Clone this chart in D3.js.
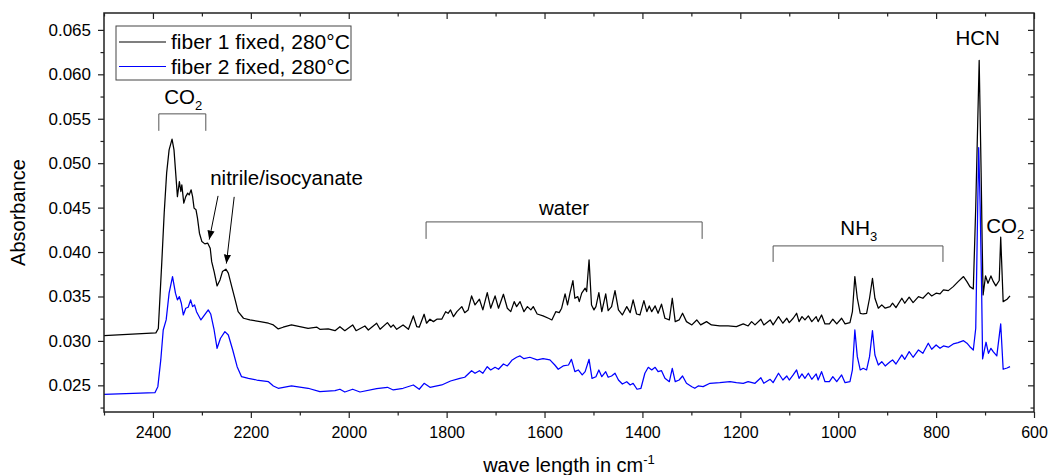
<!DOCTYPE html>
<html>
<head>
<meta charset="utf-8">
<script src="https://cdn.jsdelivr.net/npm/d3@7"></script>
<style>
  body { margin: 0; background: #fff; }
  text { font-family: Arial, "Liberation Sans", sans-serif; fill: #000; }
</style>
</head>
<body>
<div class="chart"></div>
<script>
// fiber 1 (black) - wavenumber in cm-1 and absorbance
const fiber1Wave = [
  2500, 2394, 2389, 2382, 2377, 2372, 2367, 2361, 2357, 2354,
  2350, 2346, 2343, 2341, 2337, 2333, 2329, 2326, 2322, 2319,
  2316, 2312, 2309, 2305, 2300, 2294, 2288, 2283, 2280, 2275,
  2269, 2263, 2258, 2251, 2246, 2239, 2232, 2226, 2215, 2202,
  2181, 2164, 2154, 2144, 2134, 2117, 2100, 2083, 2065, 2059,
  2042, 2028, 2018, 2008, 1992, 1985, 1967, 1960, 1943, 1936,
  1921, 1914, 1909, 1902, 1889, 1878, 1868, 1861, 1856, 1846,
  1841, 1834, 1827, 1820, 1810, 1802, 1797, 1792, 1786, 1779,
  1769, 1763, 1756, 1749, 1742, 1733, 1726, 1717, 1710, 1701,
  1694, 1684, 1676, 1669, 1662, 1657, 1650, 1642, 1635, 1628,
  1623, 1615, 1603, 1592, 1585, 1577, 1570, 1565, 1558, 1553,
  1548, 1542, 1538, 1532, 1529, 1524, 1517, 1514, 1509, 1504,
  1499, 1495, 1489, 1483, 1475, 1470, 1463, 1456, 1449, 1441,
  1432, 1425, 1419, 1412, 1405, 1397, 1391, 1386, 1381, 1374,
  1368, 1361, 1354, 1345, 1339, 1333, 1325, 1318, 1310, 1299,
  1289, 1281, 1269, 1259, 1242, 1225, 1208, 1194, 1184, 1177,
  1170, 1158, 1152, 1139, 1133, 1122, 1113, 1105, 1100, 1092,
  1085, 1080, 1074, 1068, 1061, 1054, 1045, 1041, 1034, 1027,
  1018, 1011, 1003, 993, 986, 976, 971, 966, 961, 955,
  949, 942, 936, 930, 925, 918, 911, 904, 894, 889,
  882, 870, 864, 855, 847, 836, 827, 816, 809, 800,
  792, 785, 775, 765, 755, 744, 737, 731, 724, 719,
  712, 708, 706, 704, 699, 694, 688, 683, 678, 671,
  668, 663, 655, 649
];
const fiber1Abs = [
  0.03059, 0.03090, 0.03140, 0.03878, 0.04441, 0.04891, 0.05150, 0.05271, 0.05150, 0.04925,
  0.04624, 0.04793, 0.04681, 0.04756, 0.04550, 0.04624, 0.04663, 0.04643, 0.04700, 0.04624,
  0.04494, 0.04475, 0.04381, 0.04212, 0.04118, 0.04092, 0.04100, 0.04043, 0.03892, 0.03780,
  0.03619, 0.03686, 0.03780, 0.03807, 0.03762, 0.03611, 0.03461, 0.03329, 0.03255, 0.03236,
  0.03217, 0.03199, 0.03180, 0.03135, 0.03154, 0.03180, 0.03160, 0.03142, 0.03154, 0.03131,
  0.03135, 0.03115, 0.03160, 0.03115, 0.03180, 0.03115, 0.03168, 0.03123, 0.03199, 0.03131,
  0.03206, 0.03154, 0.03180, 0.03131, 0.03180, 0.03131, 0.03281, 0.03160, 0.03154, 0.03300,
  0.03199, 0.03244, 0.03217, 0.03244, 0.03244, 0.03329, 0.03311, 0.03349, 0.03273, 0.03329,
  0.03386, 0.03318, 0.03349, 0.03506, 0.03405, 0.03469, 0.03349, 0.03543, 0.03368, 0.03506,
  0.03368, 0.03525, 0.03368, 0.03329, 0.03442, 0.03386, 0.03442, 0.03329, 0.03386, 0.03349,
  0.03386, 0.03303, 0.03281, 0.03255, 0.03236, 0.03329, 0.03318, 0.03368, 0.03529, 0.03405,
  0.03537, 0.03678, 0.03480, 0.03498, 0.03442, 0.03537, 0.03593, 0.03555, 0.03912, 0.03405,
  0.03349, 0.03386, 0.03543, 0.03329, 0.03529, 0.03341, 0.03386, 0.03566, 0.03349, 0.03292,
  0.03386, 0.03318, 0.03461, 0.03303, 0.03292, 0.03453, 0.03329, 0.03394, 0.03329, 0.03394,
  0.03311, 0.03413, 0.03255, 0.03236, 0.03480, 0.03217, 0.03236, 0.03311, 0.03217, 0.03180,
  0.03236, 0.03180, 0.03217, 0.03180, 0.03168, 0.03168, 0.03160, 0.03191, 0.03168, 0.03217,
  0.03180, 0.03244, 0.03180, 0.03236, 0.03180, 0.03273, 0.03199, 0.03255, 0.03206, 0.03255,
  0.03311, 0.03217, 0.03273, 0.03236, 0.03281, 0.03217, 0.03273, 0.03217, 0.03292, 0.03191,
  0.03191, 0.03244, 0.03191, 0.03255, 0.03191, 0.03206, 0.03329, 0.03724, 0.03480, 0.03311,
  0.03303, 0.03311, 0.03480, 0.03705, 0.03480, 0.03368, 0.03405, 0.03368, 0.03386, 0.03424,
  0.03374, 0.03480, 0.03424, 0.03492, 0.03431, 0.03498, 0.03480, 0.03543, 0.03506, 0.03537,
  0.03529, 0.03574, 0.03566, 0.03611, 0.03667, 0.03724, 0.03667, 0.03611, 0.03585, 0.04512,
  0.06156, 0.04891, 0.04137, 0.03517, 0.03731, 0.03649, 0.03731, 0.03667, 0.03619, 0.03680,
  0.04167, 0.03442, 0.03469, 0.03506
];

// fiber 2 (blue)
const fiber2Wave = [
  2500, 2396, 2390, 2384, 2379, 2373, 2367, 2360, 2354, 2350,
  2346, 2342, 2338, 2333, 2328, 2323, 2319, 2315, 2311, 2302,
  2296, 2287, 2282, 2275, 2269, 2262, 2253, 2246, 2237, 2228,
  2219, 2205, 2188, 2164, 2154, 2144, 2117, 2083, 2059, 2028,
  2018, 2008, 1992, 1977, 1943, 1921, 1909, 1889, 1868, 1856,
  1846, 1834, 1810, 1792, 1773, 1763, 1749, 1742, 1733, 1726,
  1717, 1710, 1701, 1694, 1684, 1676, 1666, 1657, 1650, 1642,
  1630, 1615, 1603, 1589, 1579, 1572, 1562, 1551, 1545, 1538,
  1531, 1523, 1517, 1509, 1503, 1495, 1489, 1483, 1475, 1470,
  1463, 1456, 1449, 1441, 1432, 1425, 1419, 1411, 1403, 1395,
  1388, 1381, 1374, 1368, 1361, 1354, 1345, 1339, 1333, 1325,
  1318, 1310, 1299, 1293, 1286, 1276, 1262, 1242, 1221, 1208,
  1194, 1184, 1170, 1158, 1152, 1139, 1133, 1122, 1113, 1105,
  1100, 1092, 1085, 1080, 1074, 1068, 1061, 1054, 1045, 1041,
  1034, 1027, 1018, 1011, 1003, 993, 986, 976, 971, 966,
  961, 955, 949, 942, 936, 930, 925, 918, 911, 904,
  894, 889, 882, 870, 864, 855, 847, 836, 827, 816,
  809, 800, 792, 785, 775, 765, 755, 744, 737, 731,
  724, 719, 715, 713, 710, 707, 705, 698, 693, 688,
  683, 676, 668, 663, 655, 649
];
const fiber2Abs = [
  0.02399, 0.02417, 0.02485, 0.02786, 0.03123, 0.03236, 0.03537, 0.03724, 0.03537, 0.03461,
  0.03498, 0.03424, 0.03292, 0.03368, 0.03379, 0.03461, 0.03386, 0.03405, 0.03329, 0.03236,
  0.03281, 0.03349, 0.03303, 0.03123, 0.02917, 0.03030, 0.03104, 0.03067, 0.02898, 0.02710,
  0.02597, 0.02579, 0.02560, 0.02541, 0.02493, 0.02467, 0.02493, 0.02467, 0.02429, 0.02440,
  0.02456, 0.02425, 0.02456, 0.02425, 0.02462, 0.02478, 0.02448, 0.02467, 0.02504, 0.02456,
  0.02523, 0.02478, 0.02504, 0.02549, 0.02579, 0.02591, 0.02665, 0.02636, 0.02665, 0.02636,
  0.02710, 0.02673, 0.02703, 0.02681, 0.02740, 0.02718, 0.02786, 0.02816, 0.02831, 0.02800,
  0.02816, 0.02786, 0.02800, 0.02786, 0.02729, 0.02681, 0.02718, 0.02729, 0.02793, 0.02654,
  0.02673, 0.02617, 0.02654, 0.02793, 0.02579, 0.02597, 0.02673, 0.02597, 0.02654, 0.02591,
  0.02605, 0.02636, 0.02560, 0.02515, 0.02541, 0.02504, 0.02523, 0.02456, 0.02467, 0.02636,
  0.02703, 0.02673, 0.02703, 0.02654, 0.02665, 0.02579, 0.02541, 0.02692, 0.02541, 0.02560,
  0.02605, 0.02523, 0.02485, 0.02467, 0.02493, 0.02485, 0.02523, 0.02530, 0.02541, 0.02530,
  0.02523, 0.02541, 0.02523, 0.02586, 0.02523, 0.02568, 0.02530, 0.02636, 0.02560, 0.02605,
  0.02560, 0.02617, 0.02673, 0.02579, 0.02628, 0.02579, 0.02636, 0.02568, 0.02628, 0.02560,
  0.02654, 0.02541, 0.02541, 0.02597, 0.02541, 0.02617, 0.02530, 0.02541, 0.02673, 0.03123,
  0.02823, 0.02673, 0.02692, 0.02673, 0.02823, 0.03115, 0.02842, 0.02729, 0.02766, 0.02718,
  0.02766, 0.02786, 0.02740, 0.02842, 0.02793, 0.02879, 0.02816, 0.02898, 0.02861, 0.02974,
  0.02906, 0.02954, 0.02917, 0.02943, 0.02929, 0.02966, 0.02980, 0.03003, 0.02974, 0.02935,
  0.02898, 0.03142, 0.04512, 0.05176, 0.04512, 0.03574, 0.02797, 0.02985, 0.02861, 0.02917,
  0.02876, 0.02831, 0.03191, 0.02681, 0.02695, 0.02710
];

const seriesNames = ["fiber 1 fixed, 280°C", "fiber 2 fixed, 280°C"];
const seriesColors = ["#000000", "#0000ff"];

const xTicks = [2400, 2200, 2000, 1800, 1600, 1400, 1200, 1000, 800, 600];
const xMinorTicks = [2500, 2300, 2100, 1900, 1700, 1500, 1300, 1100, 900, 700];
const yTicks = [0.025, 0.030, 0.035, 0.040, 0.045, 0.050, 0.055, 0.060, 0.065];
const yMinorTicks = [0.0225, 0.0275, 0.0325, 0.0375, 0.0425, 0.0475, 0.0525, 0.0575, 0.0625];

// band brackets: [from, to] in cm-1, top level and leg bottom in absorbance
const brackets = [
  { label: "CO", sub: "2", from: 2388, to: 2292, top: 0.05555, bottom: 0.05364, labelAt: 2338, labelY: 0.05668 },
  { label: "water", sub: "", from: 1842, to: 1278, top: 0.04339, bottom: 0.04148, labelAt: 1560, labelY: 0.04418 },
  { label: "NH", sub: "3", from: 1133, to: 786, top: 0.04069, bottom: 0.03889, labelAt: 958, labelY: 0.04193 }
];
const peakLabels = [
  { label: "HCN", sub: "", at: 715, level: 0.06333 },
  { label: "CO", sub: "2", at: 659, level: 0.04216 }
];
const arrowLabel = { label: "nitrile/isocyanate", at: 2283, level: 0.04756 };
const arrows = [
  { x1: 2267, y1: 0.04632, x2: 2285, y2: 0.04140 },
  { x1: 2234, y1: 0.04621, x2: 2250, y2: 0.03870 }
];

(function(){
    const
        svgWidth = 1049,
        svgHeight = 475;

    const margin = { top: 13, right: 15, bottom: 63, left: 104 };

    const width = svgWidth - margin.left - margin.right;
    const height = svgHeight - margin.top - margin.bottom;

    const svg = d3.select(".chart")
        .append("svg")
        .attr("width", svgWidth)
        .attr("height", svgHeight);

    svg.append("defs").append("marker")
        .attr("id", "arrowhead")
        .attr("viewBox", "0 0 10 10")
        .attr("refX", 10)
        .attr("refY", 5)
        .attr("markerWidth", 9)
        .attr("markerHeight", 9)
        .attr("markerUnits", "userSpaceOnUse")
        .attr("orient", "auto")
        .append("path")
        .attr("d", "M0,1 L10,5 L0,9 Z")
        .attr("fill", "#000");

    const chartGroup = svg.append("g")
        .attr("transform", `translate(${margin.left}, ${margin.top})`);

    // scales
    const xScale = d3.scaleLinear().domain([2500, 600]).range([0, width]);
    const yScale = d3.scaleLinear().domain([0.022, 0.0669]).range([height, 0]);

    const series = [
        d3.zip(fiber1Wave, fiber1Abs),
        d3.zip(fiber2Wave, fiber2Abs)
    ];

    const line = d3.line()
        .x(d => xScale(d[0]))
        .y(d => yScale(d[1]));

    chartGroup.selectAll("path.spectrum")
        .data(series)
        .enter()
        .append("path")
        .classed("spectrum", true)
        .attr("d", line)
        .attr("fill", "none")
        .attr("stroke", (d, i) => seriesColors[i])
        .attr("stroke-width", 1.25)
        .attr("stroke-linejoin", "round");

    // axes
    function styleAxis(size) {
        return g => {
            g.select(".domain").remove();
            g.selectAll("line").attr("stroke", "#222").attr("stroke-width", 1.2);
            g.selectAll("text").attr("font-size", size).attr("font-family", "Arial, 'Liberation Sans', sans-serif");
        };
    }

    chartGroup.append("g")
        .attr("transform", `translate(0, ${height})`)
        .call(d3.axisBottom(xScale).tickValues(xTicks).tickSize(6).tickSizeOuter(0).tickPadding(9).tickFormat(d3.format("d")))
        .call(styleAxis(16));
    chartGroup.append("g")
        .attr("transform", `translate(0, ${height})`)
        .call(d3.axisBottom(xScale).tickValues(xMinorTicks).tickSize(3.5).tickSizeOuter(0).tickFormat(""))
        .call(styleAxis(16));
    chartGroup.append("g")
        .call(d3.axisBottom(xScale).tickValues(xTicks).tickSize(6).tickSizeOuter(0).tickFormat(""))
        .call(styleAxis(16));
    chartGroup.append("g")
        .call(d3.axisBottom(xScale).tickValues(xMinorTicks).tickSize(3.5).tickSizeOuter(0).tickFormat(""))
        .call(styleAxis(16));

    chartGroup.append("g")
        .call(d3.axisLeft(yScale).tickValues(yTicks).tickSize(6).tickSizeOuter(0).tickPadding(7).tickFormat(d3.format(".3f")))
        .call(styleAxis(17));
    chartGroup.append("g")
        .call(d3.axisLeft(yScale).tickValues(yMinorTicks).tickSize(3.5).tickSizeOuter(0).tickFormat(""))
        .call(styleAxis(17));
    chartGroup.append("g")
        .attr("transform", `translate(${width}, 0)`)
        .call(d3.axisLeft(yScale).tickValues(yTicks).tickSize(6).tickSizeOuter(0).tickFormat(""))
        .call(styleAxis(17));
    chartGroup.append("g")
        .attr("transform", `translate(${width}, 0)`)
        .call(d3.axisLeft(yScale).tickValues(yMinorTicks).tickSize(3.5).tickSizeOuter(0).tickFormat(""))
        .call(styleAxis(17));

    // frame
    chartGroup.append("rect")
        .attr("width", width)
        .attr("height", height)
        .attr("fill", "none")
        .attr("stroke", "#222")
        .attr("stroke-width", 1.5);

    // brackets with labels
    brackets.forEach(b => {
        const x1 = xScale(b.from), x2 = xScale(b.to);
        const yt = yScale(b.top), yb = yScale(b.bottom);
        chartGroup.append("path")
            .attr("d", `M${x1},${yb} L${x1},${yt} L${x2},${yt} L${x2},${yb}`)
            .attr("fill", "none")
            .attr("stroke", "#555")
            .attr("stroke-width", 1);
        const t = chartGroup.append("text")
            .attr("x", xScale(b.labelAt))
            .attr("y", yScale(b.labelY))
            .attr("text-anchor", "middle")
            .attr("font-size", 20.5)
            .text(b.label);
        if (b.sub) {
            t.append("tspan").attr("dy", 6).attr("font-size", 13).text(b.sub);
        }
    });

    peakLabels.forEach(p => {
        const t = chartGroup.append("text")
            .attr("x", xScale(p.at))
            .attr("y", yScale(p.level))
            .attr("text-anchor", "middle")
            .attr("font-size", 20.5)
            .text(p.label);
        if (p.sub) {
            t.append("tspan").attr("dy", 6).attr("font-size", 13).text(p.sub);
        }
    });

    chartGroup.append("text")
        .attr("x", xScale(arrowLabel.at))
        .attr("y", yScale(arrowLabel.level))
        .attr("font-size", 20.5)
        .text(arrowLabel.label);

    chartGroup.selectAll("line.arrow")
        .data(arrows)
        .enter()
        .append("line")
        .classed("arrow", true)
        .attr("x1", d => xScale(d.x1))
        .attr("y1", d => yScale(d.y1))
        .attr("x2", d => xScale(d.x2))
        .attr("y2", d => yScale(d.y2))
        .attr("stroke", "#000")
        .attr("stroke-width", 1)
        .attr("marker-end", "url(#arrowhead)");

    // legend
    const legend = chartGroup.append("g").attr("transform", "translate(12, 13)");
    legend.append("rect")
        .attr("width", 235)
        .attr("height", 54)
        .attr("fill", "#fff")
        .attr("stroke", "#444")
        .attr("stroke-width", 1);
    seriesNames.forEach((name, i) => {
        const row = legend.append("g").attr("transform", `translate(0, ${16 + i * 24.5})`);
        row.append("line")
            .attr("x1", 3).attr("x2", 50)
            .attr("stroke", seriesColors[i])
            .attr("stroke-width", 1.2);
        row.append("text")
            .attr("x", 55)
            .attr("y", 7)
            .attr("font-size", 21)
            .text(name);
    });

    // axis titles
    svg.append("text")
        .attr("transform", `translate(25, ${margin.top + height / 2}) rotate(-90)`)
        .attr("text-anchor", "middle")
        .attr("font-size", 20)
        .text("Absorbance");

    const xTitle = svg.append("text")
        .attr("x", margin.left + width / 2)
        .attr("y", 472)
        .attr("text-anchor", "middle")
        .attr("font-size", 20)
        .text("wave length in cm");
    xTitle.append("tspan").attr("dy", -8).attr("font-size", 13).text("-1");
})();
</script>
</body>
</html>
